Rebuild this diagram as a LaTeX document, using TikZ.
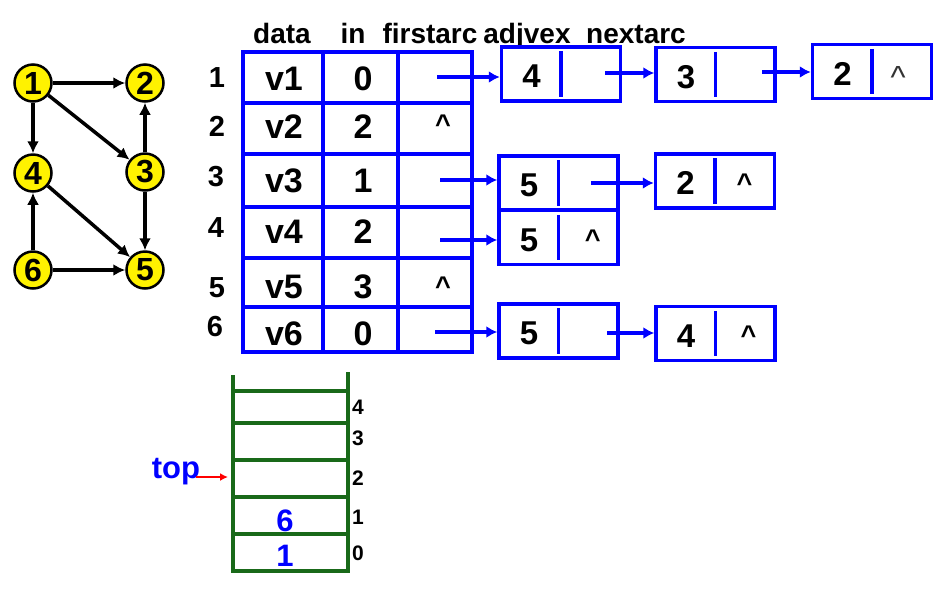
\documentclass[tikz,border=0pt]{standalone}
\usepackage{fontspec}
\setmainfont{Liberation Sans}
\usetikzlibrary{arrows.meta,calc}
\definecolor{sgreen}{RGB}{25,105,25}
\definecolor{pblue}{RGB}{0,0,255}
\newcommand{\arcbox}[5]{%
  \node[arcrect] (#1) at #2 {};
  \draw[pblue, line width=3.5pt] ([yshift=-6pt]#1.north) -- ([yshift=6pt]#1.south);
  \node[digit] (#1-l) at ($(#1.west)!0.26!(#1.east) + (0,2)$) {#3};
  \node[caret, anchor=base] (#1-r) at ($(#1.west)!#5!(#1.east) + (0,11)$) {#4};
}
\begin{document}
\begin{tikzpicture}[x=1pt,y=-1pt,
  vtx/.style={circle,draw=black,line width=2.5pt,fill=yellow,minimum size=37pt,inner sep=0pt,font=\fontsize{32}{32}\selectfont\bfseries},
  gedge/.style={line width=3.5pt,-{Latex[length=12pt,width=12pt]}},
  hdr/.style={font=\fontsize{28}{28}\selectfont\bfseries, anchor=base, inner sep=0pt},
  cell/.style={font=\fontsize{34}{34}\selectfont\bfseries, text height=24pt, text depth=0pt, inner sep=0pt},
  rowlbl/.style={font=\fontsize{29}{29}\selectfont\bfseries, text height=20.5pt, text depth=0pt, inner sep=0pt},
  caret/.style={font=\fontsize{27}{27}\selectfont\bfseries, inner sep=0pt},
  digit/.style={font=\fontsize{33}{33}\selectfont\bfseries, text height=23.5pt, text depth=0pt, inner sep=0pt},
  tbl/.style={draw=pblue, line width=3.5pt},
  arcrect/.style={draw=pblue, line width=3.5pt, rectangle, minimum width=119pt, minimum height=54pt, inner sep=0pt},
  parr/.style={pblue, line width=3.5pt, -{Latex[length=11pt,width=12pt]}},
  stk/.style={draw=sgreen, line width=3.5pt},
  sidx/.style={font=\fontsize{21}{21}\selectfont\bfseries, text height=15pt, text depth=0pt, inner sep=0pt, anchor=west},
  sval/.style={font=\fontsize{31}{31}\selectfont\bfseries, text=pblue, text height=22pt, text depth=0pt, inner sep=0pt}
]
\useasboundingbox (0,0) rectangle (944,614);

% ---------- graph ----------
\node[vtx] (g1) at (33,83) {1};
\node[vtx] (g2) at (145,83) {2};
\node[vtx] (g4) at (33,173) {4};
\node[vtx] (g3) at (145,172) {3};
\node[vtx] (g6) at (33,270) {6};
\node[vtx] (g5) at (145,270) {5};
\draw[gedge] (g1) -- (g2);
\draw[gedge] (g1) -- (g4);
\draw[gedge] (g1) -- (g3);
\draw[gedge] (g3) -- (g2);
\draw[gedge] (g3) -- (g5);
\draw[gedge] (g4) -- (g5);
\draw[gedge] (g6) -- (g4);
\draw[gedge] (g6) -- (g5);

% ---------- headers ----------
\node[hdr] (hdata) at (282,43) {data};
\node[hdr] (hin) at (353,43) {in};
\node[hdr] (hfirst) at (430,43) {firstarc};
\node[hdr] (hadj) at (527,43) {adjvex};
\node[hdr] (hnext) at (636,43) {nextarc};

% ---------- table ----------
\draw[tbl] (243,52) rectangle (472,352);
\draw[tbl] (323,52) -- (323,352);
\draw[tbl] (398,52) -- (398,352);
\draw[tbl] (243,103) -- (472,103);
\draw[tbl] (243,154) -- (472,154);
\draw[tbl] (243,207) -- (472,207);
\draw[tbl] (243,258) -- (474,258);
\draw[tbl] (243,307) -- (474,307);

\node[rowlbl] (r1) at (217,77) {1};
\node[rowlbl] (r2) at (217,126) {2};
\node[rowlbl] (r3) at (216,176) {3};
\node[rowlbl] (r4) at (216,227) {4};
\node[rowlbl] (r5) at (217,287) {5};
\node[rowlbl] (r6) at (215,326) {6};

\node[cell] (v1) at (284,78) {v1};
\node[cell] (v2) at (284,126) {v2};
\node[cell] (v3) at (284,180) {v3};
\node[cell] (v4) at (284,231) {v4};
\node[cell] (v5) at (284,286) {v5};
\node[cell] (v6) at (284,333) {v6};
\node[cell] (i1) at (363,78) {0};
\node[cell] (i2) at (363,126) {2};
\node[cell] (i3) at (363,180) {1};
\node[cell] (i4) at (363,231) {2};
\node[cell] (i5) at (363,286) {3};
\node[cell] (i6) at (363,333) {0};
\node[caret, anchor=base] (f2) at (443,133) {\^{}};
\node[caret, anchor=base] (f5) at (443,295) {\^{}};

% ---------- arc lists ----------
\arcbox{a1}{(561,74)}{4}{}{0.76}
\arcbox{a2}{(715.5,74.5)}{3}{}{0.76}
\arcbox{a3}{(872,71.5)}{2}{}{0.72}
\node[font=\fontsize{32}{32}\selectfont, text=black!80, inner sep=0pt, anchor=base] (a3-c) at (898,88) {\^{}};
\arcbox{b1}{(558.5,183)}{5}{}{0.76}
\arcbox{b2}{(715,181)}{2}{\^{}}{0.74}
\arcbox{c1}{(558.5,237.5)}{5}{\^{}}{0.78}
\arcbox{d1}{(558.5,331)}{5}{}{0.76}
\arcbox{e1}{(715.5,333.5)}{4}{\^{}}{0.77}

\coordinate (p1) at (437,77);
\coordinate (p3) at (440,180);
\coordinate (p4) at (440,240);
\coordinate (p6) at (435,332);
\coordinate (q1) at (605,73);
\coordinate (q2) at (762,72);
\coordinate (q3) at (591,183);
\coordinate (q6) at (607,333);
\draw[parr] (p1) -- (p1 -| a1.west);
\draw[parr] (q1) -- (q1 -| a2.west);
\draw[parr] (q2) -- (q2 -| a3.west);
\draw[parr] (p3) -- (p3 -| b1.west);
\draw[parr] (q3) -- (q3 -| b2.west);
\draw[parr] (p4) -- (p4 -| c1.west);
\draw[parr] (p6) -- (p6 -| d1.west);
\draw[parr] (q6) -- (q6 -| e1.west);

% ---------- stack ----------
\draw[stk] (233,375) -- (233,571) -- (348,571) -- (348,372);
\draw[stk] (233,391) -- (348,391);
\draw[stk] (233,423) -- (348,423);
\draw[stk] (233,460) -- (348,460);
\draw[stk] (233,497) -- (348,497);
\draw[stk] (233,534) -- (348,534);
\node[sidx] (s4) at (352,407) {4};
\node[sidx] (s3) at (352,438) {3};
\node[sidx] (s2) at (352,478) {2};
\node[sidx] (s1) at (352,517) {1};
\node[sidx] (s0) at (352,553) {0};
\node[sval] (sv1) at (285,520) {6};
\node[sval] (sv0) at (285,555) {1};
\node[font=\fontsize{31}{31}\selectfont\bfseries, text=pblue, inner sep=0pt, anchor=base] (top) at (176,478) {top};
\coordinate (tp) at (228,477);
\draw[red, line width=2.5pt, -{Latex[length=8pt,width=8pt]}] ([xshift=-4pt,yshift=1pt]top.base east) -- (tp);
\end{tikzpicture}
\end{document}
